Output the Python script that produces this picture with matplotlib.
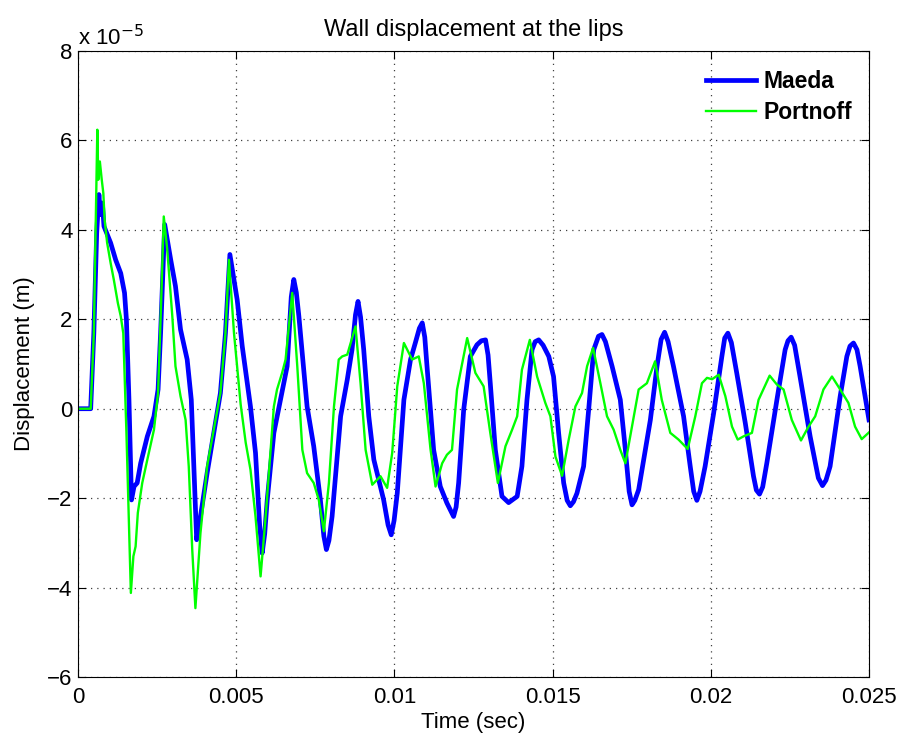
import matplotlib
matplotlib.use("Agg")
import matplotlib.pyplot as plt
import numpy as np

plt.rcParams["font.family"] = ["Liberation Sans", "DejaVu Sans"]

# time in ms, displacement in units of 1e-5 m
maeda_t = [0, 0.40, 0.50, 0.59, 0.66, 0.71, 0.77, 0.82, 1.03, 1.19, 1.35, 1.47, 1.53, 1.61,
           1.69, 1.77, 1.87, 1.98, 2.19, 2.40, 2.53, 2.61, 2.74, 2.93, 3.08, 3.24, 3.45, 3.58,
           3.75, 3.87, 4.08, 4.29, 4.50, 4.66, 4.80, 5.03, 5.19, 5.45, 5.61, 5.74, 5.82, 5.90,
           5.98, 6.19, 6.40, 6.61, 6.74, 6.82, 6.90, 6.98, 7.24, 7.45, 7.66, 7.77, 7.85, 7.93,
           8.03, 8.30, 8.51, 8.66, 8.77, 8.85, 8.93, 9.03, 9.19, 9.35, 9.66, 9.80, 9.90, 9.99,
           10.09, 10.30, 10.51, 10.66, 10.79, 10.88, 10.96, 11.03, 11.24, 11.45, 11.66, 11.87,
           11.95, 12.03, 12.19, 12.40, 12.61, 12.75, 12.88, 12.96, 13.03, 13.19, 13.40, 13.61,
           13.88, 14.03, 14.19, 14.35, 14.45, 14.56, 14.70, 14.88, 15.03, 15.19, 15.35, 15.46,
           15.56, 15.66, 15.77, 15.98, 16.14, 16.30, 16.45, 16.56, 16.67, 16.88, 17.14, 17.30,
           17.42, 17.51, 17.60, 17.72, 17.93, 18.09, 18.30, 18.43, 18.54, 18.65, 18.82, 19.14,
           19.35, 19.46, 19.56, 19.66, 19.82, 20.09, 20.35, 20.44, 20.54, 20.65, 20.82, 21.09,
           21.35, 21.44, 21.54, 21.64, 21.77, 22.09, 22.35, 22.44, 22.54, 22.65, 22.82, 23.14,
           23.40, 23.53, 23.64, 23.77, 24.09, 24.30, 24.40, 24.51, 24.62, 24.72, 25.0]
maeda_v = [0, 0, 1.7, 3.93, 4.79, 4.34, 4.6, 4.08, 3.71, 3.33, 3.03, 2.59, 1.99, 0.2,
           -2.04, -1.74, -1.66, -1.22, -0.62, -0.17, 0.43, 1.69, 4.12, 3.33, 2.74, 1.77, 1.10, 0.2,
           -2.93, -2.41, -1.44, -0.54, 0.35, 1.69, 3.45, 2.44, 1.4, 0.05, -0.99, -2.6, -3.23, -2.8,
           -2.04, -0.54, 0.20, 0.95, 2.5, 2.89, 2.6, 2.07, 0.05, -0.84, -2.04, -2.85, -3.15, -2.95,
           -2.41, -0.17, 0.65, 1.32, 2.1, 2.40, 2.05, 1.32, -0.17, -1.14, -2.04, -2.6, -2.82, -2.5,
           -1.89, 0.20, 1.10, 1.47, 1.8, 1.92, 1.6, 0.95, -0.92, -1.74, -2.11, -2.41,
           -2.2, -1.66, -0.02, 1.17, 1.43, 1.52, 1.54, 1.2, 0.57, -0.92, -1.96, -2.10,
           -1.96, -1.29, 0.20, 1.32, 1.5, 1.54, 1.42, 1.17, 0.72, -0.54, -1.66, -2.05,
           -2.17, -2.08, -1.89, -1.29, -0.02, 1.32, 1.62, 1.66, 1.5, 0.95, 0.20, -0.92,
           -1.85, -2.15, -2.05, -1.81, -0.92, -0.25, 0.95, 1.55, 1.71, 1.5, 0.95, -0.17,
           -1.29, -1.85, -2.05, -1.85, -1.29, -0.10, 1.17, 1.58, 1.69, 1.48, 0.80, -0.32,
           -1.51, -1.82, -1.91, -1.75, -1.22, 0.20, 1.32, 1.52, 1.60, 1.42, 0.72, -0.62,
           -1.55, -1.72, -1.6, -1.29, 0.28, 1.17, 1.4, 1.47, 1.32, 0.95, -0.25]

portnoff_t = [0, 0.40, 0.50, 0.61, 0.64, 0.69, 0.75, 0.80, 0.84, 0.92, 1.03, 1.13, 1.26, 1.35,
              1.43, 1.53, 1.67, 1.75, 1.82, 1.89, 2.03, 2.19, 2.40, 2.53, 2.63, 2.71, 2.82, 2.98,
              3.08, 3.24, 3.40, 3.50, 3.61, 3.71, 3.87, 4.08, 4.29, 4.50, 4.66, 4.77, 4.93, 5.14,
              5.30, 5.45, 5.61, 5.77, 5.93, 6.08, 6.19, 6.29, 6.45, 6.56, 6.77, 6.93, 7.09, 7.24,
              7.45, 7.61, 7.77, 7.93, 8.09, 8.24, 8.35, 8.51, 8.77, 8.93, 9.09, 9.30, 9.56, 9.77,
              9.93, 10.09, 10.30, 10.56, 10.77, 10.93, 11.14, 11.30, 11.51, 11.66, 11.82, 11.98,
              12.30, 12.56, 12.82, 13.03, 13.27, 13.51, 13.72, 13.88, 14.03, 14.28, 14.51, 14.77,
              14.93, 15.09, 15.30, 15.51, 15.72, 15.93, 16.09, 16.28, 16.51, 16.72, 16.93, 17.14,
              17.30, 17.51, 17.72, 17.98, 18.24, 18.45, 18.72, 18.98, 19.27, 19.51, 19.72, 19.88,
              20.04, 20.25, 20.46, 20.67, 20.85, 21.03, 21.30, 21.51, 21.86, 22.09, 22.30, 22.56,
              22.85, 23.09, 23.30, 23.56, 23.83, 24.09, 24.35, 24.56, 24.77, 25.0]
portnoff_v = [0, 0, 1.69, 6.24, 5.12, 5.53, 5.12, 4.82, 4.23, 3.71, 3.26, 2.89, 2.36, 2.07,
              1.69, -0.54, -4.12, -3.30, -3.08, -2.33, -1.66, -1.14, -0.47, 0.35, 2.44, 4.30, 3.56, 2.07,
              0.95, 0.28, -0.25, -1.29, -3.15, -4.46, -2.78, -1.29, -0.47, 0.35, 1.69, 3.33, 1.69, 0.1,
              -0.76, -1.36, -2.41, -3.75, -2.41, -0.99, 0.05, 0.43, 0.80, 1.10, 2.59, 0.95, -0.92, -1.44,
              -1.66, -2.04, -2.74, -1.66, 0.05, 1.10, 1.17, 1.21, 1.84, 0.57, -0.92, -1.70, -1.51, -1.77,
              -0.99, 0.50, 1.47, 1.10, 1.17, 0.57, -0.9, -1.74, -1.22, -1.03, -0.92, 0.43,
              1.58, 0.80, 0.50, -0.54, -1.66, -0.84, -0.47, -0.17, 0.87, 1.54, 0.72, 0.13,
              -0.17, -1.07, -1.50, -0.69, 0.05, 0.35, 0.95, 1.36, 0.57, -0.17, -0.47, -0.92,
              -1.22, -0.40, 0.43, 0.57, 1.06, 0.20, -0.54, -0.69, -0.90, -0.17, 0.57, 0.69,
              0.66, 0.76, 0.28, -0.40, -0.69, -0.62, -0.54, 0.20, 0.74, 0.54, 0.43, -0.25,
              -0.71, -0.40, -0.17, 0.43, 0.72, 0.43, 0.13, -0.40, -0.68, -0.53]

xticks = [0, 0.005, 0.01, 0.015, 0.02, 0.025]
xticklabels = ["0", "0.005", "0.01", "0.015", "0.02", "0.025"]
yticks = [-6, -4, -2, 0, 2, 4, 6, 8]

fig = plt.figure(figsize=(9.02, 7.33), dpi=100)
ax = fig.add_axes([0.0865, 0.0764, 0.8769, 0.854])

ax.plot(np.array(maeda_t) / 1000, maeda_v, color=(0, 0, 1), lw=3.4, label="Maeda",
        solid_joinstyle="round")
ax.plot(np.array(portnoff_t) / 1000, portnoff_v, color=(0, 1, 0), lw=1.7, label="Portnoff",
        solid_joinstyle="round")

ax.set_xlim(0, 0.025)
ax.set_ylim(-6, 8)
ax.set_xticks(xticks)
ax.set_xticklabels(xticklabels)
ax.set_yticks(yticks)
ax.set_yticklabels(["\u2212%d" % -v if v < 0 else "%d" % v for v in yticks])
ax.tick_params(direction="in", top=True, right=True, labelsize=16, length=6)
ax.tick_params(axis="x", pad=7)
ax.tick_params(axis="y", pad=4)
ax.grid(True, linestyle=(0, (1, 4)), color="0.25", linewidth=0.9)

ax.set_title("Wall displacement at the lips", fontsize=17, pad=11)
ax.set_xlabel("Time (sec)", fontsize=16, labelpad=3)
ax.set_ylabel("Displacement (m)", fontsize=16, labelpad=9)
fig.text(0.087, 1 - 45 / 733, r"x 10$^{-5}$", fontsize=16, ha="left", va="baseline")

leg = ax.legend(loc="upper right", bbox_to_anchor=(0.99, 0.985), borderaxespad=0,
                frameon=False, prop={"weight": "bold", "size": 16.5},
                handlelength=2.2, handletextpad=0.3, labelspacing=0.35)

fig.savefig("out.png", dpi=100)
